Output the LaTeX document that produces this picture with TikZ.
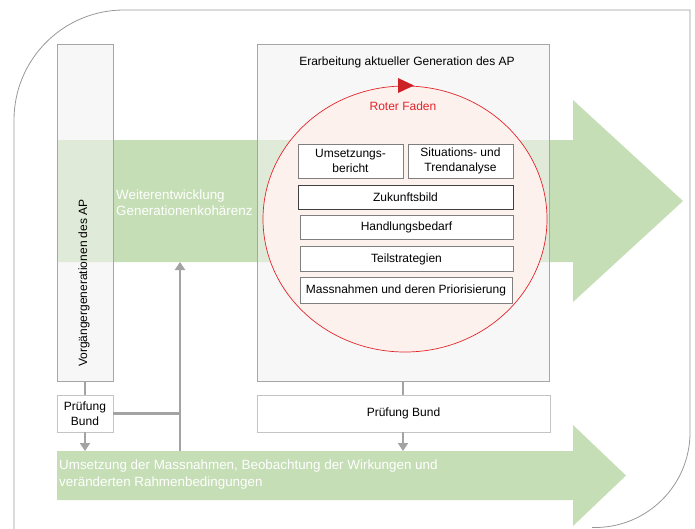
\documentclass[tikz,border=0pt]{standalone}
\usepackage{fontspec}
\setmainfont{Liberation Sans}
\usetikzlibrary{shapes.geometric, arrows.meta, positioning, calc}
\definecolor{apgreen}{HTML}{C5DEB5}
\definecolor{apgrey}{HTML}{F2F2F2}
\definecolor{apframe}{HTML}{A6A6A6}
\definecolor{apline}{HTML}{7F7F7F}
\definecolor{aplight}{HTML}{C4C4C4}
\definecolor{apred}{HTML}{E2252B}
\definecolor{appink}{HTML}{FDF1EE}
\definecolor{apconn}{HTML}{A3A3A3}

\begin{document}
\begin{tikzpicture}[
    x=1pt, y=-1pt,
    panel/.style={rectangle, draw=apframe, fill=apgrey, fill opacity=0.6, inner sep=0pt},
    stepbox/.style={rectangle, draw=apline, fill=white, align=center, inner sep=0pt, font=\fontsize{12}{15}\selectfont},
    checkbox/.style={rectangle, draw=aplight, fill=white, align=center, inner sep=0pt, font=\fontsize{12}{15}\selectfont},
    plain/.style={font=\fontsize{12}{15}\selectfont, inner sep=0pt},
    bandtext/.style={font=\fontsize{13.4}{16.2}\selectfont, text=white, align=left, inner sep=0pt, anchor=west},
    conn/.style={draw=apconn, line width=2.6pt},
    arrow/.style={conn, -{Triangle[length=8pt, width=10pt]}}
]
\useasboundingbox (0,0) rectangle (695,528);

% Outer frame
\draw[apline!80, line width=0.8pt] (14,540) [rounded corners=110pt] -- (14,10) [sharp corners] -- (690,10)
    [rounded corners=95pt] -- (690,527.5) -- (592,527.5);

% Green bands
\draw[fill=apgreen, draw=none] (57,140) -- (573,140) -- (573,100) -- (683,201) -- (573,302) -- (573,262) -- (57,262) -- cycle;
\draw[fill=apgreen, draw=none] (57,451) -- (573,451) -- (573,425) -- (626,475.5) -- (573,526) -- (573,500) -- (57,500) -- cycle;
\coordinate (uptop) at (180,262);
\coordinate (lowtop) at (180,451);

% Panels
\node[panel, minimum width=56, minimum height=337] (vorg) at (85,212.5) {};
\node[panel, minimum width=292, minimum height=337] (erarb) at (403,212.5) {};
\node[plain, rotate=90] (vorgtxt) at (84,283) {Vorgängergenerationen des AP};
\node[plain] (erarbtxt) at (407,62) {Erarbeitung aktueller Generation des AP};

% Roter Faden
\node[ellipse, draw=apred, fill=appink, line width=0.7pt, minimum width=284, minimum height=266, inner sep=0pt] (faden) at (405,219) {};
\fill[apred!90!black] (398,78) -- (414,85.5) -- (398,93) -- cycle;
\node[plain, text=apred] (fadentxt) at (403,106) {Roter Faden};

% Steps
\node[stepbox, minimum width=105, minimum height=34] (umsetz) at (350.5,161) {Umsetzungs-\\bericht};
\node[stepbox, minimum width=105, minimum height=34] (situat) at (460.5,161) {Situations- und\\Trendanalyse};
\node[stepbox, draw=black!75, minimum width=215, minimum height=24] (zukunft) at (405.5,197) {Zukunftsbild};
\node[stepbox, minimum width=213, minimum height=24] (handl) at (406.5,227) {Handlungsbedarf};
\node[stepbox, minimum width=213, minimum height=25] (teil) at (406.5,259) {Teilstrategien};
\node[stepbox, minimum width=212, minimum height=26] (massn) at (406,290) {Massnahmen und deren Priorisierung};

% Pruefung
\node[checkbox, minimum width=56, minimum height=37] (pruefL) at (85,413.5) {Prüfung\\Bund};
\node[checkbox, minimum width=293, minimum height=37] (pruefR) at (403.5,413.5) {Prüfung Bund};

% Band texts
\node[bandtext] (weiter) at (116,202.5) {Weiterentwicklung\\Generationenkohärenz};
\node[bandtext] (umsetzung) at (59,474.5) {Umsetzung der Massnahmen, Beobachtung der Wirkungen und\\veränderten Rahmenbedingungen};

% Connectors
\draw[conn] (vorg.south) -- (pruefL.north);
\draw[arrow] (pruefL.south) -- (pruefL.south |- lowtop);
\draw[conn] (pruefL.east) -- (pruefL.east -| lowtop);
\draw[arrow] (lowtop) -- (uptop);
\draw[conn] (erarb.south) -- (erarb.south |- pruefR.north);
\draw[arrow] (erarb.south |- pruefR.south) -- (erarb.south |- lowtop);

\end{tikzpicture}
\end{document}
